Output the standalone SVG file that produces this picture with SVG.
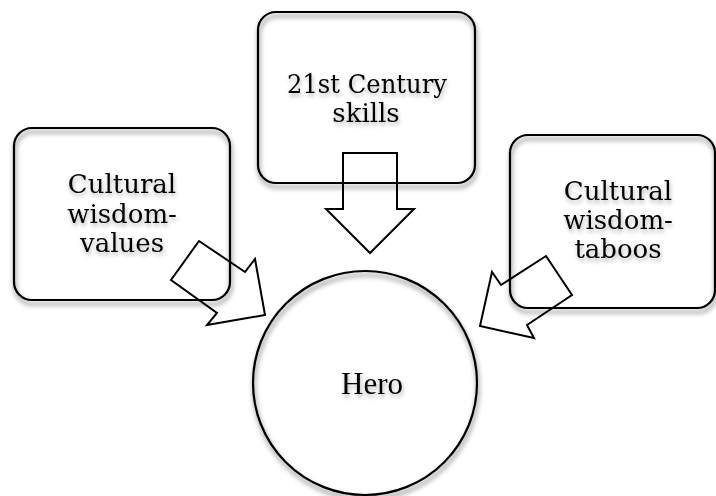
<svg xmlns="http://www.w3.org/2000/svg" width="716" height="496" viewBox="0 0 716 496">
<defs>
<filter id="sh" x="-10%" y="-10%" width="120%" height="120%">
<feGaussianBlur in="SourceAlpha" stdDeviation="2.5" result="b"/>
<feOffset in="b" dx="1" dy="4" result="ob"/>
<feFlood flood-color="#000" flood-opacity="0.55"/>
<feComposite in2="ob" operator="in" result="drop"/>
<feMerge><feMergeNode in="drop"/><feMergeNode in="SourceGraphic"/></feMerge>
</filter>
<filter id="tsh" x="-10%" y="-20%" width="120%" height="140%">
<feGaussianBlur in="SourceAlpha" stdDeviation="2.2" result="b"/>
<feOffset in="b" dx="1" dy="3" result="ob"/>
<feFlood flood-color="#000" flood-opacity="0.3"/>
<feComposite in2="ob" operator="in" result="drop"/>
<feMerge><feMergeNode in="drop"/><feMergeNode in="SourceGraphic"/></feMerge>
</filter>
</defs>
<style>
.box{fill:none;stroke:#000;stroke-width:2.2}
.arr{fill:none;stroke:#000;stroke-width:2;stroke-linejoin:miter}
.t{font-family:"DejaVu Serif","Liberation Serif",serif;font-size:26px;fill:#000;text-anchor:middle}
.h{font-family:"Liberation Serif",serif;font-size:31px;fill:#000;text-anchor:middle}
</style>
<rect width="716" height="496" fill="#fff"/>
<g id="node-skills">
<rect class="box" x="258" y="12" width="217" height="171" rx="18" filter="url(#sh)"/>
<g filter="url(#tsh)"><text class="t" x="367" y="93" textLength="160" lengthAdjust="spacingAndGlyphs">21st Century</text><text class="t" x="366" y="122">skills</text></g>
</g>
<g id="node-values">
<rect class="box" x="14" y="128" width="216" height="172" rx="18" filter="url(#sh)"/>
<g filter="url(#tsh)"><text class="t" x="122" y="193">Cultural</text><text class="t" x="122" y="223">wisdom-</text><text class="t" x="122" y="252">values</text></g>
</g>
<g id="node-taboos">
<rect class="box" x="510" y="135" width="205" height="173" rx="18" filter="url(#sh)"/>
<g filter="url(#tsh)"><text class="t" x="618" y="200">Cultural</text><text class="t" x="618" y="229">wisdom-</text><text class="t" x="618" y="258">taboos</text></g>
</g>
<g id="node-hero">
<circle class="box" cx="365" cy="383" r="112" filter="url(#sh)"/>
<text class="h" x="372" y="394" filter="url(#tsh)">Hero</text>
</g>
<g id="connectors">
<polygon class="arr" points="343,153 397,153 397,209 414,209 370,253 326,209 343,209"/>
<polygon class="arr" points="199,241 245,272 255,259 265,315 207,325 217,313 171,280"/>
<polygon class="arr" points="546,256 572,295 527,325 534,338 480,326 492,272 501,285"/>
</g>
</svg>
